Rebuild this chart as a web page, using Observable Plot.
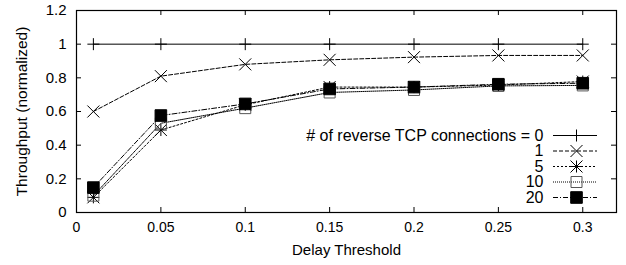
<!DOCTYPE html>
<html><head><meta charset="utf-8">
<script src="https://cdn.jsdelivr.net/npm/d3@7"></script>
<script src="https://cdn.jsdelivr.net/npm/@observablehq/plot@0.6"></script>
<style>body{margin:0;background:#fff}</style>
</head><body><div id="chart"></div>
<script>
// ---- data ----
const delays = [0.01, 0.05, 0.1, 0.15, 0.2, 0.25, 0.3];
const conn0  = [1, 1, 1, 1, 1, 1, 1];
const conn1  = [0.60, 0.81, 0.88, 0.907, 0.923, 0.933, 0.933];
const conn5  = [0.09, 0.49, 0.64, 0.745, 0.745, 0.757, 0.778];
const conn10 = [0.10, 0.53, 0.62, 0.713, 0.728, 0.752, 0.755];
const conn20 = [0.148, 0.576, 0.645, 0.734, 0.745, 0.762, 0.768];
const seriesLabels = ["# of reverse TCP connections = 0", "1", "5", "10", "20"];
const xTicks = [0, 0.05, 0.1, 0.15, 0.2, 0.25, 0.3];
const xTickLabels = ["0", "0.05", "0.1", "0.15", "0.2", "0.25", "0.3"];
const yTicks = [0, 0.2, 0.4, 0.6, 0.8, 1, 1.2];
const yTickLabels = ["0", "0.2", "0.4", "0.6", "0.8", "1", "1.2"];
const xLabel = "Delay Threshold";
const yLabel = "Throughput (normalized)";

// ---- gnuplot-like symbols (half-extent = dot r) ----
const half = s => Math.sqrt(s / Math.PI);
const symPlus = {draw(c, s) { const r = half(s); c.moveTo(-r, 0); c.lineTo(r, 0); c.moveTo(0, -r); c.lineTo(0, r); }};
const symTimes = {draw(c, s) { const r = half(s); c.moveTo(-r, -r); c.lineTo(r, r); c.moveTo(-r, r); c.lineTo(r, -r); }};
const symStar = {draw(c, s) { const r = half(s); c.moveTo(-r, 0); c.lineTo(r, 0); c.moveTo(0, -r); c.lineTo(0, r);
  c.moveTo(-r, -r); c.lineTo(r, r); c.moveTo(-r, r); c.lineTo(r, -r); }};
const symSquare = {draw(c, s) { const r = half(s); c.rect(-r, -r, 2 * r, 2 * r); }};

const values = [conn0, conn1, conn5, conn10, conn20];
const styles = [
  {symbol: symPlus,   r: 6,   dash: null,      fill: "none", stroke: "#000"},
  {symbol: symTimes,  r: 6,   dash: "4,2",     fill: "none", stroke: "#000"},
  {symbol: symStar,   r: 6,   dash: "2,2",     fill: "none", stroke: "#000"},
  {symbol: symSquare, r: 5.5, dash: "1,1",     fill: "none", stroke: "#555"},
  {symbol: symSquare, r: 5.8, dash: "5,2,1,2", fill: "#000", stroke: "#000"}
];

const font = "'Liberation Sans', Arial, Helvetica, sans-serif";
const W = 626, H = 265, mL = 76, mR = 10, mT = 10, mB = 53;
const frameW = W - mL - mR, frameH = H - mT - mB;
const tick = 5;

const marks = [];
values.forEach((vals, k) => {
  const st = styles[k];
  const rows = delays.map((d, i) => ({x: d, y: vals[i]}));
  marks.push(Plot.line(rows, {x: "x", y: "y", stroke: "#000", strokeWidth: 1, strokeDasharray: st.dash}));
  marks.push(Plot.dot(rows, {x: "x", y: "y", r: st.r, symbol: st.symbol, fill: st.fill, stroke: st.stroke, strokeWidth: 1}));
});

// legend (inside plot, right side)
const legTextRight = 73, legLineL = 553 - mL, legLineR = W - mR - 597, legMark = 40, legTop = 125, legGap = 15.5;
const yMax = yTicks[yTicks.length - 1];
seriesLabels.forEach((lab, k) => {
  const st = styles[k];
  const dy = legTop + k * legGap;
  marks.push(Plot.text([lab], {frameAnchor: "top-right", dx: -legTextRight, dy, textAnchor: "end", lineAnchor: "middle", fontSize: 16, fill: "#000"}));
  marks.push(Plot.tickY([yMax], {y: d => d, dy, insetLeft: legLineL, insetRight: legLineR, stroke: "#000", strokeWidth: 1, strokeDasharray: st.dash}));
  marks.push(Plot.dot([lab], {frameAnchor: "top-right", dx: -legMark, dy, r: st.r, symbol: st.symbol, fill: st.fill, stroke: st.stroke, strokeWidth: 1}));
});

// inward ticks on all four sides
marks.push(Plot.tickX(xTicks, {x: d => d, insetTop: frameH - tick, stroke: "#000"}));
marks.push(Plot.tickX(xTicks, {x: d => d, insetBottom: frameH - tick, stroke: "#000"}));
marks.push(Plot.tickY(yTicks, {y: d => d, insetRight: frameW - tick, stroke: "#000"}));
marks.push(Plot.tickY(yTicks, {y: d => d, insetLeft: frameW - tick, stroke: "#000"}));

marks.push(Plot.axisX({anchor: "bottom", ticks: xTicks, tickSize: 0, tickPadding: 10, label: null,
  tickFormat: d => xTickLabels[xTicks.indexOf(d)], fontSize: 14, fill: "#000"}));
marks.push(Plot.axisY({anchor: "left", ticks: yTicks, tickSize: 0, tickPadding: 10, label: null,
  tickFormat: d => yTickLabels[yTicks.indexOf(d)], fontSize: 15, fill: "#000"}));
marks.push(Plot.text([xLabel], {frameAnchor: "bottom", dy: 38, lineAnchor: "middle", fontSize: 15, fill: "#000"}));
marks.push(Plot.axisY({anchor: "left", ticks: [], tickSize: 0, label: yLabel, labelAnchor: "center", labelArrow: "none",
  labelOffset: 61, dy: -5, fontSize: 15.5, fill: "#000"}));
marks.push(Plot.frame({stroke: "#000", strokeWidth: 1.2}));

const chart = Plot.plot({
  width: W, height: H,
  marginLeft: mL, marginRight: mR, marginTop: mT, marginBottom: mB,
  style: {fontFamily: font, background: "#fff", color: "#000"},
  x: {domain: [0, 0.32]},
  y: {domain: [0, yMax]},
  marks
});
document.getElementById("chart").append(chart);
</script>
</body></html>
